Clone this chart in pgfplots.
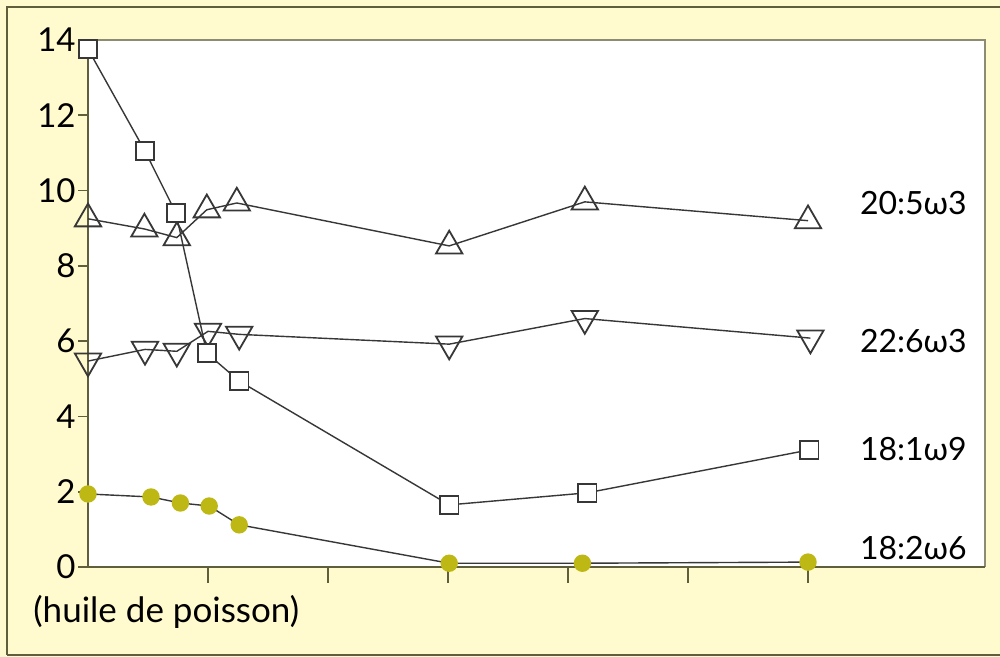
\documentclass[border=0pt]{standalone}
\usepackage{fontspec}
\setmainfont{Lato}
\usepackage{pgfplots}
\pgfplotsset{compat=1.18}
\definecolor{cream}{RGB}{255,251,206}
\definecolor{frame}{RGB}{95,95,60}
\definecolor{frame2}{RGB}{140,140,115}
\definecolor{dot}{RGB}{190,184,20}
\definecolor{ln}{RGB}{55,55,55}
\begin{document}
\begin{tikzpicture}
\useasboundingbox (0,0) rectangle (500pt,328.5pt);
\fill[cream] (0,0) rectangle (500pt,328.5pt);
\draw[frame, line width=1pt] (3.5pt,1pt) -- (3.5pt,325pt) -- (500pt,325pt);
\draw[frame, line width=1pt] (3.5pt,1pt) -- (500pt,1pt);
\begin{axis}[
  at={(44pt,45pt)}, anchor=south west,
  scale only axis, width=448.5pt, height=263.5pt,
  xmin=0, xmax=7.475, ymin=0, ymax=14,
  axis background/.style={fill=white},
  axis line style={draw=none},
  xtick=\empty,
  ytick={0,2,...,14},
  ytick pos=left,
  tick align=outside,
  major tick length=5pt,
  tick style={frame, line width=0.8pt},
  ticklabel style={font=\fontsize{16.5}{16.5}\selectfont, text=black},
  /pgf/number format/assume math mode=true,
  yticklabel style={inner sep=1pt},
  clip=false,
]
\draw[frame2, line width=1pt] (rel axis cs:0,1) -- (rel axis cs:1,1) -- (rel axis cs:1,0);
\pgfplotsinvokeforeach{1,2,3,4,5,6}{\draw[frame, line width=0.8pt] (axis cs:#1,0) -- ++(0,-8pt);}
\draw[frame, line width=1pt] (rel axis cs:0,1) -- (rel axis cs:0,0) -- (rel axis cs:1,0);

\addplot[ln, line width=0.7pt, mark=triangle, mark size=7.6pt, mark options={draw=ln, fill=white, line width=0.9pt}]
coordinates {(0,9.25) (0.47,8.98) (0.74,8.75) (0.99,9.49) (1.24,9.67) (3.01,8.53) (4.14,9.7) (6.0,9.2)};
\addplot[ln, line width=0.7pt, mark=triangle, mark size=7.6pt, mark options={draw=ln, fill=white, line width=0.9pt, rotate=180}]
coordinates {(0,5.47) (0.475,5.78) (0.74,5.73) (1.0,6.26) (1.26,6.18) (3.01,5.92) (4.14,6.6) (6.02,6.08)};
\addplot[ln, line width=0.7pt, mark=square*, mark size=4.6pt, mark options={draw=ln, fill=white, line width=0.9pt}]
coordinates {(0,13.76) (0.475,11.05) (0.733,9.40) (0.99,5.68) (1.26,4.94) (3.01,1.65) (4.16,1.97) (6.01,3.11)};
\addplot[ln, line width=0.7pt, mark=*, mark size=4pt, mark options={draw=dot, fill=dot}]
coordinates {(0,1.94) (0.525,1.86) (0.77,1.70) (1.01,1.62) (1.26,1.12) (3.01,0.10) (4.12,0.10) (6.0,0.13)};

\node[anchor=west, font=\fontsize{16}{16}\selectfont, inner sep=0pt] at (axis cs:6.43,9.67) {20:5ω3};
\node[anchor=west, font=\fontsize{16}{16}\selectfont, inner sep=0pt] at (axis cs:6.43,6.0) {22:6ω3};
\node[anchor=west, font=\fontsize{16}{16}\selectfont, inner sep=0pt] at (axis cs:6.43,3.13) {18:1ω9};
\node[anchor=west, font=\fontsize{16}{16}\selectfont, inner sep=0pt] at (axis cs:6.43,0.5) {18:2ω6};
\end{axis}
\node[anchor=west, font=\fontsize{17.5}{17.5}\selectfont, inner sep=0pt] at (16.5pt,22.5pt) {(huile de poisson)};
\end{tikzpicture}
\end{document}
